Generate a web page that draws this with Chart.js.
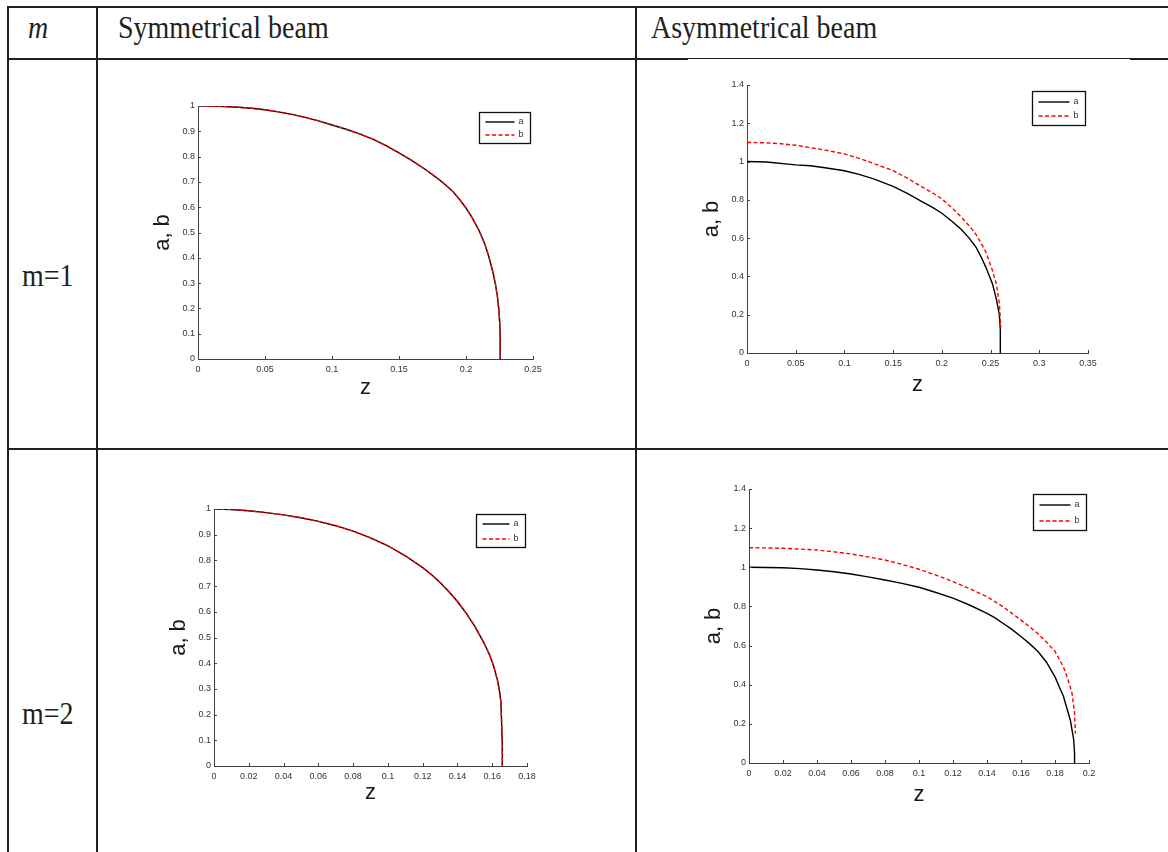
<!DOCTYPE html>
<html lang="en">
<head>
<meta charset="UTF-8">
<title>Beam widths a, b against z</title>
<script src="https://cdn.jsdelivr.net/npm/chart.js@4.4.1/dist/chart.umd.min.js"></script>
<style>
  body { margin: 0; width: 1168px; height: 852px; background: #fff; position: relative; overflow: hidden;
         font-family: "Liberation Serif", "Times New Roman", serif; color: #231f20; }
  .ln { position: absolute; background: #231f20; }
  .txt { position: absolute; font-size: 28px; line-height: 1; white-space: nowrap;
         transform: scaleY(1.1); transform-origin: left center; }
  canvas { position: absolute; }
</style>
</head>
<body>

<!-- table frame -->
<div class="ln" style="left:7px; top:6px; width:1161px; height:2px"></div>
<div class="ln" style="left:7px; top:58px; width:681px; height:2px"></div>
<div class="ln" style="left:688px; top:58px; width:442px; height:1px"></div>
<div class="ln" style="left:1130px; top:58px; width:38px; height:2px"></div>
<div class="ln" style="left:7px; top:448px; width:1161px; height:2px"></div>
<div class="ln" style="left:7px; top:6px; width:2px; height:846px"></div>
<div class="ln" style="left:96px; top:6px; width:2px; height:846px"></div>
<div class="ln" style="left:635px; top:6px; width:2px; height:846px"></div>

<div class="txt" style="left:28px; top:14px; font-style:italic">m</div>
<div class="txt" style="left:118px; top:14px">Symmetrical beam</div>
<div class="txt" style="left:651px; top:14px">Asymmetrical beam</div>
<div class="txt" style="left:22px; top:262px">m=1</div>
<div class="txt" style="left:22px; top:700px">m=2</div>

<canvas id="c1"></canvas>
<canvas id="c2"></canvas>
<canvas id="c3"></canvas>
<canvas id="c4"></canvas>

<script>
// ---- data ----
// m=1, symmetrical beam (a and b coincide)
const sym1Z = [0, 0.01, 0.02, 0.03, 0.04, 0.05, 0.06, 0.07, 0.08, 0.09, 0.1, 0.11, 0.12, 0.13, 0.14, 0.15, 0.16, 0.17,
               0.18, 0.185, 0.19, 0.195, 0.2, 0.205, 0.21, 0.214, 0.217, 0.22, 0.222, 0.2235, 0.2245, 0.2252, 0.2255, 0.2255];
const sym1A = [1, 0.9995, 0.998, 0.995, 0.991, 0.985, 0.977, 0.967, 0.955, 0.941, 0.925, 0.909, 0.891, 0.87, 0.844, 0.815, 0.783, 0.748,
               0.709, 0.687, 0.663, 0.632, 0.597, 0.555, 0.505, 0.455, 0.405, 0.345, 0.295, 0.245, 0.195, 0.14, 0.1, 0];
const sym1B = sym1A;

// m=1, asymmetrical beam
const asym1ZA = [0, 0.02, 0.05, 0.065, 0.08, 0.1, 0.115, 0.13, 0.15, 0.165, 0.18, 0.19, 0.2, 0.21, 0.22, 0.228, 0.235, 0.24,
                 0.245, 0.252, 0.256, 0.259, 0.26, 0.26];
const asym1A  = [1, 0.998, 0.983, 0.978, 0.968, 0.952, 0.933, 0.91, 0.87, 0.832, 0.79, 0.762, 0.73, 0.69, 0.645, 0.6, 0.553, 0.505,
                 0.45, 0.36, 0.28, 0.2, 0.12, 0];
const asym1ZB = [0, 0.02, 0.035, 0.05, 0.065, 0.08, 0.1, 0.115, 0.13, 0.15, 0.165, 0.18, 0.19, 0.2, 0.21, 0.22, 0.228, 0.235,
                 0.24, 0.245, 0.252, 0.256, 0.259, 0.2605];
const asym1B  = [1.1, 1.098, 1.093, 1.085, 1.073, 1.06, 1.04, 1.017, 0.99, 0.953, 0.912, 0.866, 0.838, 0.805, 0.76, 0.71, 0.665, 0.62,
                 0.576, 0.53, 0.43, 0.36, 0.26, 0.13];

// m=2, symmetrical beam (a and b coincide)
const sym2Z = [0, 0.01, 0.02, 0.03, 0.04, 0.05, 0.06, 0.07, 0.08, 0.09, 0.1, 0.11, 0.12, 0.125, 0.13, 0.135, 0.14, 0.145, 0.15,
               0.155, 0.158, 0.16, 0.161, 0.163, 0.164, 0.165, 0.1655, 0.1658, 0.1658];
const sym2A = [1, 0.998, 0.993, 0.986, 0.977, 0.966, 0.952, 0.935, 0.914, 0.888, 0.857, 0.818, 0.772, 0.745, 0.714, 0.679, 0.64, 0.595, 0.543,
               0.482, 0.44, 0.405, 0.384, 0.334, 0.3, 0.25, 0.15, 0.08, 0];
const sym2B = sym2A;

// m=2, asymmetrical beam
const asym2ZA = [0, 0.01, 0.02, 0.03, 0.04, 0.05, 0.06, 0.07, 0.08, 0.09, 0.1, 0.11, 0.12, 0.13, 0.14, 0.145, 0.15, 0.155, 0.16,
                 0.165, 0.17, 0.175, 0.18, 0.1825, 0.185, 0.187, 0.189, 0.191, 0.1915, 0.1915];
const asym2A  = [1, 0.999, 0.998, 0.993, 0.986, 0.977, 0.966, 0.951, 0.935, 0.918, 0.898, 0.871, 0.842, 0.806, 0.765, 0.74, 0.71, 0.68, 0.646,
                 0.61, 0.57, 0.515, 0.44, 0.39, 0.34, 0.28, 0.22, 0.12, 0.05, 0];
const asym2ZB = [0, 0.01, 0.02, 0.03, 0.04, 0.05, 0.06, 0.07, 0.08, 0.09, 0.1, 0.11, 0.12, 0.13, 0.14, 0.15, 0.16, 0.165, 0.17,
                 0.175, 0.18, 0.185, 0.1875, 0.19, 0.1915, 0.192];
const asym2B  = [1.1, 1.099, 1.097, 1.093, 1.088, 1.079, 1.068, 1.053, 1.037, 1.015, 0.99, 0.96, 0.927, 0.89, 0.85, 0.795, 0.73, 0.697, 0.66,
                 0.618, 0.57, 0.49, 0.43, 0.357, 0.255, 0.15];

// ticks
const ticksX1 = ['0', '0.05', '0.1', '0.15', '0.2', '0.25'];
const ticksX2 = ['0', '0.05', '0.1', '0.15', '0.2', '0.25', '0.3', '0.35'];
const ticksX3 = ['0', '0.02', '0.04', '0.06', '0.08', '0.1', '0.12', '0.14', '0.16', '0.18'];
const ticksX4 = ['0', '0.02', '0.04', '0.06', '0.08', '0.1', '0.12', '0.14', '0.16', '0.18', '0.2'];
const ticksYSym = ['0', '0.1', '0.2', '0.3', '0.4', '0.5', '0.6', '0.7', '0.8', '0.9', '1'];
const ticksYAsym = ['0', '0.2', '0.4', '0.6', '0.8', '1', '1.2', '1.4'];

const labelFont = { family: '"Liberation Sans", Arial, sans-serif', size: 9 };
const titleFont = { family: '"Liberation Sans", Arial, sans-serif', size: 22 };

// inward tick marks and a boxed MATLAB-style legend
const matlabAxes = {
    id: 'matlabAxes',
    afterDraw(chart, args, opt) {
        const { ctx, chartArea: ar, scales: { x, y } } = chart;
        ctx.save();
        ctx.strokeStyle = '#404040';
        ctx.lineWidth = 1;
        ctx.beginPath();
        x.ticks.forEach(t => {
            const px = Math.round(x.getPixelForValue(t.value)) + 0.5;
            ctx.moveTo(px, ar.bottom); ctx.lineTo(px, ar.bottom - 3);
        });
        y.ticks.forEach(t => {
            const py = Math.round(y.getPixelForValue(t.value)) + 0.5;
            ctx.moveTo(ar.left, py); ctx.lineTo(ar.left + 3, py);
        });
        ctx.stroke();

        // legend box
        const lx = Math.round(ar.right - opt.dr - opt.w) + 0.5;
        const ly = Math.round(ar.top + opt.dt) + 0.5;
        ctx.fillStyle = '#fff';
        ctx.fillRect(lx, ly, opt.w, opt.h);
        ctx.strokeStyle = '#111';
        ctx.lineWidth = 1.3;
        ctx.strokeRect(lx, ly, opt.w, opt.h);
        const order = chart.data.datasets.slice().sort((p, q) => p.label.localeCompare(q.label));
        order.forEach((ds, i) => {
            const ry = Math.round(ly + opt.h * (i === 0 ? 0.3 : 0.73));
            ctx.strokeStyle = ds.borderColor;
            ctx.lineWidth = ds.borderWidth;
            ctx.setLineDash(ds.borderDash || []);
            ctx.beginPath();
            ctx.moveTo(lx + 6, ry); ctx.lineTo(lx + opt.w - 16, ry);
            ctx.stroke();
            ctx.setLineDash([]);
            ctx.fillStyle = '#333';
            ctx.font = '9px "Liberation Sans", Arial, sans-serif';
            ctx.textBaseline = 'middle';
            ctx.fillText(ds.label, lx + opt.w - 12, ry);
        });
        ctx.restore();
    }
};

function pts(z, v) {
    return z.map((zz, i) => ({ x: zz, y: v[i] }));
}

function makeChart(id, area, zA, aVals, zB, bVals, xLabels, yLabels, xMax, yMax, titleGap, leg) {
    const box = { x: area.l - 60, y: area.t - 20, w: area.r - area.l + 80, h: area.b - area.t + 80 };
    const cv = document.getElementById(id);
    cv.width = box.w; cv.height = box.h;
    cv.style.left = box.x + 'px'; cv.style.top = box.y + 'px';
    const xH = titleGap + 17;
    const xVals = xLabels.map(Number);
    const yVals = yLabels.map(Number);
    return new Chart(cv, {
        type: 'scatter',
        data: {
            datasets: [
                { label: 'a', data: pts(zA, aVals), showLine: true, borderColor: '#000', borderWidth: 1.4,
                  pointRadius: 0, tension: 0, order: 1 },
                { label: 'b', data: pts(zB, bVals), showLine: true, borderColor: '#ff0000', borderWidth: 1.4,
                  borderDash: [4, 2.5], pointRadius: 0, tension: 0, order: 0 }
            ]
        },
        options: {
            responsive: false,
            animation: false,
            devicePixelRatio: 1,
            layout: { padding: { left: 8, top: 20, right: 20, bottom: 60 - xH } },
            plugins: { legend: { display: false }, tooltip: { enabled: false }, matlabAxes: leg },
            scales: {
                x: {
                    type: 'linear', min: 0, max: xMax,
                    grid: { display: false, drawTicks: false },
                    border: { display: true, color: '#404040', width: 1 },
                    ticks: { padding: 5, color: '#333', font: labelFont, maxRotation: 0, autoSkip: false,
                             callback: (v, i) => xLabels[i] },
                    title: { display: true, text: 'z', color: '#1a1a1a', font: titleFont, padding: { top: 0, bottom: 4 } },
                    afterBuildTicks: s => { s.ticks = xVals.map(v => ({ value: v })); },
                    afterFit: s => { s.height = xH; }
                },
                y: {
                    type: 'linear', min: 0, max: yMax,
                    grid: { display: false, drawTicks: false },
                    border: { display: true, color: '#404040', width: 1 },
                    ticks: { padding: 3, color: '#333', font: labelFont, autoSkip: false,
                             callback: (v, i) => yLabels[i] },
                    title: { display: true, text: 'a, b', color: '#1a1a1a', font: titleFont, padding: { top: 4, bottom: 0 } },
                    afterBuildTicks: s => { s.ticks = yVals.map(v => ({ value: v })); },
                    afterFit: s => { s.width = 52; }
                }
            }
        },
        plugins: [matlabAxes]
    });
}

makeChart('c1', { l: 198, r: 533, t: 106, b: 359 }, sym1Z, sym1A, sym1Z, sym1B,
    ticksX1, ticksYSym, 0.25, 1, 29, { dr: 3, dt: 6, w: 51, h: 31 });
makeChart('c2', { l: 747, r: 1088, t: 85, b: 353 }, asym1ZA, asym1A, asym1ZB, asym1B,
    ticksX2, ticksYAsym, 0.35, 1.4, 32, { dr: 3, dt: 6, w: 53, h: 34 });
makeChart('c3', { l: 214, r: 527, t: 509, b: 766 }, sym2Z, sym2A, sym2Z, sym2B,
    ticksX3, ticksYSym, 0.18, 1, 27, { dr: 2, dt: 5, w: 49, h: 33 });
makeChart('c4', { l: 749, r: 1089, t: 489, b: 763 }, asym2ZA, asym2A, asym2ZB, asym2B,
    ticksX4, ticksYAsym, 0.2, 1.4, 32, { dr: 3, dt: 5, w: 53, h: 36 });
</script>
</body>
</html>
